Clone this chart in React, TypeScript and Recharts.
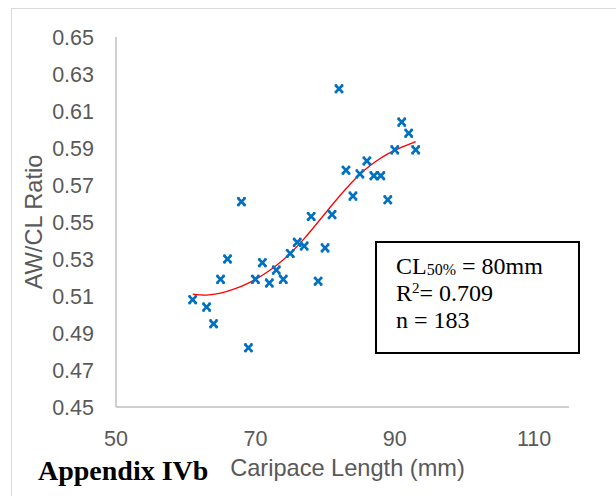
import { ComposedChart, Scatter, Line, XAxis, YAxis } from 'recharts';

// carapace length (mm) and AW/CL ratio of each plotted point
const lengths = [61, 63, 64, 65, 66, 68, 69, 70, 71, 72, 73, 74, 75, 76, 77, 78, 79, 80, 81, 82, 83, 84, 85, 86, 87, 88, 89, 90, 91, 92, 93];
const ratios = [
  0.508, 0.504, 0.495, 0.519, 0.530, 0.561, 0.482, 0.519, 0.528, 0.517, 0.524,
  0.519, 0.533, 0.539, 0.537, 0.553, 0.518, 0.536, 0.554, 0.622, 0.578, 0.564,
  0.576, 0.583, 0.575, 0.575, 0.562, 0.589, 0.604, 0.598, 0.589,
];

// red trend curve
const trendLengths = [61, 63, 65, 67, 69, 71, 73, 75, 77, 79, 81, 83, 85, 87, 89, 91, 93];
const trendRatios = [0.511, 0.5105, 0.5115, 0.5138, 0.517, 0.5212, 0.5265, 0.533, 0.541, 0.550, 0.5592, 0.568, 0.5758, 0.582, 0.5868, 0.5905, 0.5935];

const xTicks = [50, 70, 90, 110];
const yTicks = [0.45, 0.47, 0.49, 0.51, 0.53, 0.55, 0.57, 0.59, 0.61, 0.63, 0.65];

const points = lengths.map((x, i) => ({ x, y: ratios[i] }));
const trend = trendLengths.map((x, i) => ({ x, y: trendRatios[i] }));

const BLUE = '#0070C0';
const GREY_TEXT = '#595959';
const AXIS = '#BFBFBF';

function Cross(props: { cx?: number; cy?: number }) {
  const { cx = 0, cy = 0 } = props;
  const r = 3.8;
  return (
    <g stroke={BLUE} strokeWidth={2.7} fill="none">
      <path d={`M${cx - r},${cy - r}L${cx + r},${cy + r}M${cx + r},${cy - r}L${cx - r},${cy + r}`} />
      <path d={`M${cx - r - 0.5},${cy - r}h2.5M${cx + r + 0.5},${cy - r}h-2.5M${cx - r - 0.5},${cy + r}h2.5M${cx + r + 0.5},${cy + r}h-2.5`} strokeWidth={1.5} />
    </g>
  );
}

const tickStyle = { fill: GREY_TEXT, fontSize: 21.5, fontFamily: 'Liberation Sans, Arial, sans-serif' };

export default function App() {
  return (
    <div style={{ position: 'absolute', left: 0, top: 0, width: 616, height: 496, background: '#fff', overflow: 'hidden' }}>
      <div style={{ position: 'absolute', left: 11, top: 8, width: 620, height: 520, border: '1.5px solid #D9D9D9', boxSizing: 'border-box' }} />
      <div style={{ position: 'absolute', left: 0, top: 0 }}>
        <ComposedChart width={616} height={496} margin={{ top: 37, right: 47, bottom: 49, left: 0 }}>
          <XAxis
            type="number"
            dataKey="x"
            domain={[50, 115]}
            ticks={xTicks}
            allowDataOverflow
            stroke={AXIS}
            strokeWidth={1.5}
            tickLine={false}
            tickSize={0}
            tickMargin={24}
            tick={tickStyle}
            height={40}
          />
          <YAxis
            type="number"
            domain={[0.45, 0.65]}
            ticks={yTicks}
            allowDataOverflow
            stroke={AXIS}
            strokeWidth={1.5}
            tickLine={false}
            tickSize={0}
            tickMargin={22}
            tick={tickStyle}
            tickFormatter={(v: number) => v.toFixed(2)}
            width={116}
          />
          <Line
            data={trend}
            dataKey="y"
            type="natural"
            stroke="#FF0000"
            strokeWidth={1.3}
            dot={false}
            activeDot={false}
            isAnimationActive={false}
          />
          <Scatter data={points} dataKey="y" shape={<Cross />} isAnimationActive={false} />
        </ComposedChart>
      </div>
      <svg width={616} height={496} style={{ position: 'absolute', left: 0, top: 0, pointerEvents: 'none' }}>
        <text
          x={0}
          y={0}
          transform="translate(41.5,222) rotate(-90)"
          textAnchor="middle"
          fill={GREY_TEXT}
          fontSize={23.6}
          fontFamily="Liberation Sans, Arial, sans-serif"
        >
          AW/CL Ratio
        </text>
        <text x={347.5} y={476} textAnchor="middle" fill={GREY_TEXT} fontSize={23.6} fontFamily="Liberation Sans, Arial, sans-serif">
          Caripace Length (mm)
        </text>
        <text x={38} y={480} fill="#000" fontSize={28} fontWeight="bold" fontFamily="Liberation Serif, Times New Roman, serif">
          Appendix IVb
        </text>
        <rect x={376} y={242} width={203} height={111} fill="#fff" stroke="#000" strokeWidth={2} />
        <g fontFamily="Liberation Serif, Times New Roman, serif" fontSize={24} fill="#000">
          <text x={396} y={274.3}>
            CL<tspan fontSize={16} dy={1}>50%</tspan>
            <tspan dy={-1}> = 80mm</tspan>
          </text>
          <text x={396} y={300.7}>
            R<tspan fontSize={15} dy={-8}>2</tspan>
            <tspan dy={8}>= 0.709</tspan>
          </text>
          <text x={396} y={327.7}>n = 183</text>
        </g>
      </svg>
    </div>
  );
}
